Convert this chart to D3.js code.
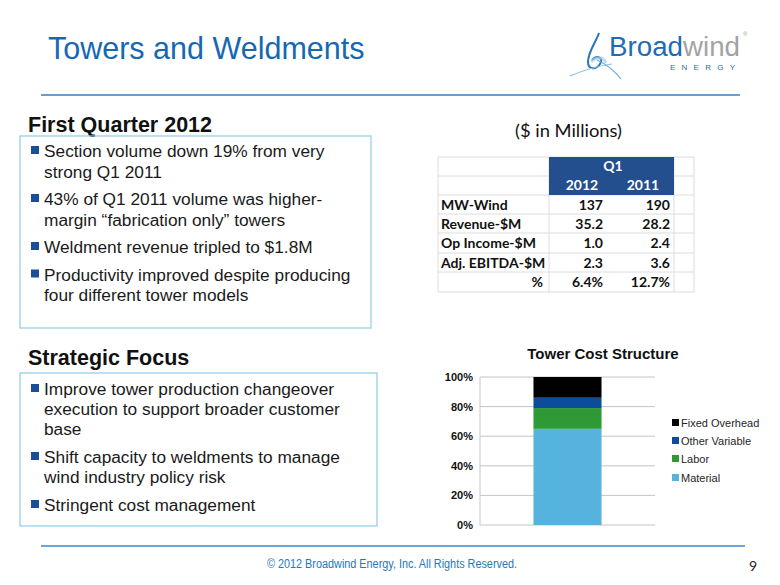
<!DOCTYPE html>
<html><head><meta charset="utf-8">
<script src="https://cdn.jsdelivr.net/npm/d3@7"></script>
<style>body{margin:0;background:#fff}svg{display:block}</style>
</head><body>
<script>
// ---- data ----
const pageTitle = "Towers and Weldments";
const section1Title = "First Quarter 2012";
const section1Bullets = [
  ["Section volume down 19% from very", "strong Q1 2011"],
  ["43% of Q1 2011 volume was higher-", "margin \u201cfabrication only\u201d towers"],
  ["Weldment revenue tripled to $1.8M"],
  ["Productivity improved despite producing", "four different tower models"]
];
const section2Title = "Strategic Focus";
const section2Bullets = [
  ["Improve tower production changeover", "execution to support broader customer", "base"],
  ["Shift capacity to weldments to manage", "wind industry policy risk"],
  ["Stringent cost management"]
];
const tableNote = "($ in Millions)";
const tablePeriod = "Q1";
const tableYears = ["2012", "2011"];
const rowLabels = ["MW-Wind", "Revenue-$M", "Op Income-$M", "Adj. EBITDA-$M", "%"];
const values2012 = ["137", "35.2", "1.0", "2.3", "6.4%"];
const values2011 = ["190", "28.2", "2.4", "3.6", "12.7%"];

const chartTitle = "Tower Cost Structure";
const barCategory = ["Q1 2012"];
const costCategories = ["Material", "Labor", "Other Variable", "Fixed Overhead"];
const costValues = [65, 14, 7, 14];
const costColors = ["#55b3de", "#2f9a35", "#0b4c9b", "#000000"];
const yTicks = [0, 20, 40, 60, 80, 100];
const footerText = "\u00a9 2012 Broadwind Energy, Inc. All Rights Reserved.";
const pageNumber = "9";

// ---- drawing ----
const W = 780, H = 585;
const svg = d3.select("body").append("svg").attr("width", W).attr("height", H);
const ARIAL = "'Liberation Sans', Arial, sans-serif";
const CAL = "Lato, 'Open Sans', sans-serif";
const blue = "#1668b0";

// header
svg.append("text").attr("x", 48).attr("y", 59).text(pageTitle)
  .attr("font-family", ARIAL).attr("font-size", 30.5).attr("fill", blue);
svg.append("line").attr("x1", 41).attr("x2", 740).attr("y1", 95).attr("y2", 95)
  .attr("stroke", "#3a7dbf").attr("stroke-width", 1.5);

// logo
const logo = svg.append("g");
logo.append("path").attr("d", "M599,33 C596,42 588,52 588,62 C588,70 596,70 600,64 C604,58 597,54 592,60")
  .attr("fill", "none").attr("stroke", "#2a74b8").attr("stroke-width", 2);
logo.append("path").attr("d", "M570,76 C584,70 598,66 612,64")
  .attr("fill", "none").attr("stroke", "#8fc3e6").attr("stroke-width", 1.2);
logo.append("path").attr("d", "M597,60 C606,64 614,70 621,79")
  .attr("fill", "none").attr("stroke", "#6aaedd").attr("stroke-width", 1.2);
logo.append("path").attr("d", "M591,62 C596,56 604,57 606,63")
  .attr("fill", "none").attr("stroke", "#a7cfe9").attr("stroke-width", 3).attr("opacity", 0.7);
const lt = logo.append("text").attr("x", 609).attr("y", 56)
  .attr("font-family", ARIAL).attr("font-size", 27).attr("textLength", 131).attr("lengthAdjust", "spacingAndGlyphs");
lt.append("tspan").text("Broad").attr("fill", "#1f6cb4");
lt.append("tspan").text("wind").attr("fill", "#a3a3a3");
logo.append("text").attr("x", 743).attr("y", 36).text("\u00ae").attr("font-family", ARIAL)
  .attr("font-size", 6).attr("fill", "#999");
logo.append("text").attr("x", 670).attr("y", 69.5).text("ENERGY").attr("font-family", ARIAL)
  .attr("font-size", 8).attr("fill", "#1f6cb4").attr("textLength", 65).attr("lengthAdjust", "spacing");

// text sections
function section(title, titleY, box, bullets, firstY, lineGap, paraGap) {
  svg.append("text").attr("x", 28).attr("y", titleY).text(title)
    .attr("font-family", ARIAL).attr("font-weight", "bold").attr("font-size", 21.5).attr("fill", "#111");
  svg.append("rect").attr("x", box[0]).attr("y", box[1]).attr("width", box[2]).attr("height", box[3])
    .attr("fill", "none").attr("stroke", "#8ccbe8").attr("stroke-width", 1.2);
  let y = firstY;
  bullets.forEach(lines => {
    svg.append("rect").attr("x", 31).attr("y", y - 11).attr("width", 8).attr("height", 8).attr("fill", "#1b4f95");
    lines.forEach((ln, i) => {
      svg.append("text").attr("x", 44).attr("y", y + i * lineGap).text(ln)
        .attr("font-family", ARIAL).attr("font-size", 17.3).attr("fill", "#1a1a1a");
    });
    y += (lines.length - 1) * lineGap + paraGap;
  });
}
section(section1Title, 132, [20, 136, 351, 192], section1Bullets, 157, 20.5, 27.5);
section(section2Title, 365, [20, 373, 357, 153], section2Bullets, 395, 20, 28);

// table
svg.append("text").attr("x", 515).attr("y", 137).text(tableNote)
  .attr("font-family", CAL).attr("font-size", 18).attr("fill", "#111")
  .attr("textLength", 107).attr("lengthAdjust", "spacingAndGlyphs");
const colX = [438, 549, 612, 674, 694];
const rowY = [157, 176, 195, 214, 233, 253, 272, 292];
const tg = svg.append("g");
rowY.forEach((y, i) => {
  tg.append("line").attr("x1", colX[0]).attr("x2", colX[4]).attr("y1", y).attr("y2", y)
    .attr("stroke", "#dcdcdc").attr("stroke-width", 1);
});
[colX[0], colX[1], colX[3], colX[4]].forEach(x => {
  tg.append("line").attr("x1", x).attr("x2", x).attr("y1", rowY[0]).attr("y2", rowY[7])
    .attr("stroke", "#dcdcdc").attr("stroke-width", 1);
});
tg.append("rect").attr("x", colX[1]).attr("y", rowY[0]).attr("width", colX[3] - colX[1]).attr("height", rowY[2] - rowY[0])
  .attr("fill", "#234f8e");
const tf = (sel) => sel.attr("font-family", CAL).attr("font-weight", "bold").attr("font-size", 14);
tf(tg.append("text").attr("x", 613).attr("y", 171).attr("text-anchor", "middle").text(tablePeriod).attr("fill", "#fff"));
tableYears.forEach((yr, i) => {
  tf(tg.append("text").attr("x", [582, 643][i]).attr("y", 190).attr("text-anchor", "middle").text(yr).attr("fill", "#fff"));
});
rowLabels.forEach((lab, i) => {
  const y = rowY[i + 2] + 14.5;
  const isPct = lab === "%";
  tf(tg.append("text").attr("x", isPct ? 543 : 441).attr("y", y).attr("text-anchor", isPct ? "end" : "start")
    .text(lab).attr("fill", "#111"));
  tf(tg.append("text").attr("x", 603).attr("y", y).attr("text-anchor", "end").text(values2012[i]).attr("fill", "#111"));
  tf(tg.append("text").attr("x", 670).attr("y", y).attr("text-anchor", "end").text(values2011[i]).attr("fill", "#111"));
});

// chart
const cg = svg.append("g");
const x = d3.scaleBand().domain(barCategory).range([480, 655]).padding(0.44);
const y = d3.scaleLinear().domain([0, 100]).range([525, 377]);
cg.append("text").attr("x", 603).attr("y", 359).attr("text-anchor", "middle").text(chartTitle)
  .attr("font-family", ARIAL).attr("font-weight", "bold").attr("font-size", 15).attr("fill", "#111");
cg.selectAll(".grid").data(yTicks).join("line").attr("class", "grid")
  .attr("x1", 480).attr("x2", 655).attr("y1", d => y(d)).attr("y2", d => y(d))
  .attr("stroke", "#c4c4c4").attr("stroke-width", 1);
cg.append("line").attr("x1", 480).attr("x2", 480).attr("y1", y(0)).attr("y2", y(100))
  .attr("stroke", "#c4c4c4");
const row = {cat: barCategory[0]};
costCategories.forEach((c, i) => row[c] = costValues[i]);
const stacked = d3.stack().keys(costCategories)([row]);
cg.selectAll(".seg").data(stacked).join("rect").attr("class", "seg")
  .attr("x", d => x(d[0].data.cat)).attr("width", x.bandwidth())
  .attr("y", d => y(d[0][1])).attr("height", d => y(d[0][0]) - y(d[0][1]))
  .attr("fill", (d, i) => costColors[i]);
const ax = cg.append("g").attr("transform", "translate(480,0)")
  .call(d3.axisLeft(y).tickValues(yTicks).tickSize(0).tickPadding(7).tickFormat(d => d + "%"));
ax.select(".domain").remove();
ax.selectAll("text").attr("font-family", ARIAL).attr("font-weight", "bold").attr("font-size", 11).attr("fill", "#111");

// legend (reverse order: top is last series)
const legY = [427, 445, 463, 482];
const legOrder = costCategories.map((c, i) => i).reverse();
legOrder.forEach((ci, k) => {
  cg.append("rect").attr("x", 672).attr("y", legY[k] - 8).attr("width", 7).attr("height", 7).attr("fill", costColors[ci]);
  cg.append("text").attr("x", 681).attr("y", legY[k]).text(costCategories[ci])
    .attr("font-family", ARIAL).attr("font-size", 11).attr("fill", "#262626");
});

// footer
svg.append("line").attr("x1", 41).attr("x2", 745).attr("y1", 546).attr("y2", 546)
  .attr("stroke", "#3a8ac8").attr("stroke-width", 1.5);
svg.append("text").attr("x", 267).attr("y", 568).text(footerText)
  .attr("font-family", ARIAL).attr("font-size", 12).attr("fill", "#2478bd")
  .attr("textLength", 250).attr("lengthAdjust", "spacingAndGlyphs");
svg.append("text").attr("x", 749).attr("y", 571).text(pageNumber)
  .attr("font-family", CAL).attr("font-size", 14).attr("fill", "#222");
</script>
</body></html>
